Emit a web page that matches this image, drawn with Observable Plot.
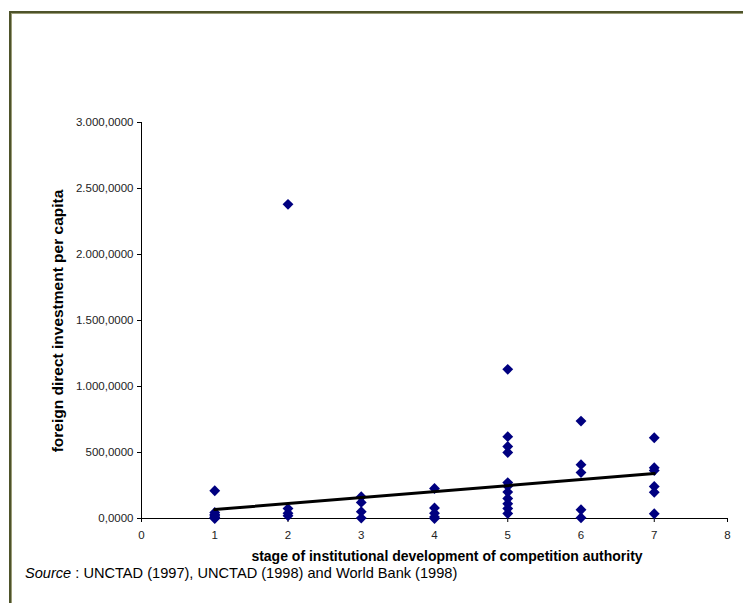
<!DOCTYPE html>
<html>
<head>
<meta charset="utf-8">
<script src="https://cdn.jsdelivr.net/npm/d3@7"></script>
<script src="https://cdn.jsdelivr.net/npm/@observablehq/plot@0.6"></script>
<style>
  html, body { margin: 0; padding: 0; background: #fff; }
  body { width: 743px; height: 603px; position: relative; overflow: hidden; font-family: "Liberation Sans", Arial, sans-serif; }
  #frame { position: absolute; left: 9px; top: 11px; width: 800px; height: 700px; border-top: 2px solid #4e532a; border-left: 2px solid #4e532a; box-shadow: inset 1px 1px 0 #9a9c78; }
  #chart { position: absolute; left: 0; top: 0; }
  #ytitle { position: absolute; left: 58px; top: 321px; transform: translate(-50%, -50%) rotate(-90deg); white-space: nowrap; font-weight: bold; font-size: 15.5px; line-height: 18px; color: #000; }
  #xtitle { position: absolute; left: 447px; top: 548px; transform: translateX(-50%); white-space: nowrap; font-weight: bold; font-size: 14px; line-height: 16px; color: #000; }
  #source { position: absolute; left: 25px; top: 565px; white-space: nowrap; font-size: 14.6px; line-height: 17px; color: #000; }
</style>
</head>
<body>
<div id="frame"></div>
<div id="chart"></div>
<div id="ytitle">foreign direct investment per capita</div>
<div id="xtitle">stage of institutional development of competition authority</div>
<div id="source"><i>Source</i> : UNCTAD (1997), UNCTAD (1998) and World Bank (1998)</div>
<script>
// Data: FDI per capita by stage of institutional development
const stages = [1, 2, 3, 4, 5, 6, 7];
const stage1 = [210, 45, 30, 20, 10, 5, 0];
const stage2 = [2380, 75, 40, 20];
const stage3 = [165, 122, 52, 3];
const stage4 = [227, 80, 40, 12, 0];
const stage5 = [1130, 620, 545, 500, 272, 245, 200, 152, 112, 76, 38];
const stage6 = [738, 408, 348, 66, 6];
const stage7 = [612, 384, 364, 242, 198, 36];
const trendX = [1, 7];
const trendY = [68, 340];
const yTicks = [0, 500, 1000, 1500, 2000, 2500, 3000];
const xTicks = [0, 1, 2, 3, 4, 5, 6, 7, 8];

const byStage = [stage1, stage2, stage3, stage4, stage5, stage6, stage7];
const points = stages.flatMap((s, i) => byStage[i].map(v => ({stage: s, fdi: v})));
const trend = trendX.map((x, i) => ({stage: x, fdi: trendY[i]}));

const euro = d3.formatLocale({decimal: ",", thousands: ".", grouping: [3], currency: ["", ""]});
const fmt = euro.format(",.4f");

const plot = Plot.plot({
  width: 743,
  height: 545,
  marginLeft: 141,
  marginRight: 16,
  marginTop: 122,
  marginBottom: 27,
  style: {fontFamily: "Liberation Sans, Arial, sans-serif", fontSize: "11.5px", color: "#000", background: "transparent", overflow: "visible"},
  x: {domain: [0, 8]},
  y: {domain: [0, 3000]},
  marks: [
    Plot.ruleX([0], {y1: 0, y2: 3000, stroke: "#000", strokeWidth: 1}),
    Plot.ruleY([0], {x1: 0, x2: 8, stroke: "#000", strokeWidth: 1}),
    Plot.axisY({ticks: yTicks, tickFormat: fmt, tickSize: 4, tickPadding: 4, label: null, stroke: "#000", fill: "#222", fontSize: 11.5}),
    Plot.axisX({ticks: xTicks, tickFormat: d => String(d), tickSize: 4, tickPadding: 8, label: null, stroke: "#000", fill: "#222", fontSize: 11.5}),
    Plot.dot(points, {x: "stage", y: "fdi", symbol: "diamond2", r: 4.9, fill: "#000080", stroke: "none"}),
    Plot.line(trend, {x: "stage", y: "fdi", stroke: "#000", strokeWidth: 3})
  ]
});
document.getElementById("chart").appendChild(plot);
</script>
</body>
</html>
